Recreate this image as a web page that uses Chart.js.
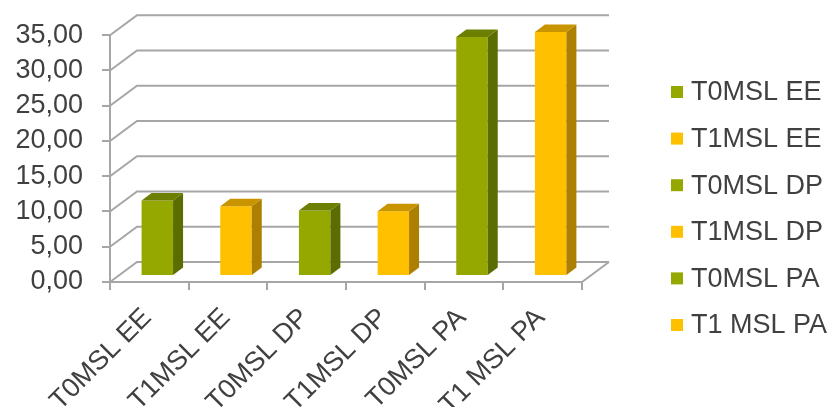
<!DOCTYPE html>
<html>
<head>
<meta charset="utf-8">
<script src="https://cdn.jsdelivr.net/npm/chart.js@4.4.1/dist/chart.umd.min.js"></script>
<style>
  html, body { margin: 0; padding: 0; background: #fff; }
  canvas { display: block; }
</style>
</head>
<body>
<canvas id="chart" width="830" height="407"></canvas>
<script>
const categories = ['T0MSL EE', 'T1MSL EE', 'T0MSL DP', 'T1MSL DP', 'T0MSL PA', 'T1 MSL PA'];
const values = [10.7, 9.9, 9.3, 9.2, 33.9, 34.6];
const yTicks = [0, 5, 10, 15, 20, 25, 30, 35];

const GREEN = { face: '#94a800', side: '#5b6c00', top: '#6c7f00' };
const GOLD = { face: '#ffc000', side: '#ac7f00', top: '#c89500' };
const palette = values.map((v, i) => (i % 2 === 0 ? GREEN : GOLD));

const GRID = '#a6a6a6';
const TEXT = '#404040';
const FONT = '"Liberation Sans", Arial, sans-serif';

// oblique depth of the box, and where the columns sit inside it
const WALL = { dx: 27, dy: 20 };
const ROW = { dx: 8, dy: 6 };
const COL_DEPTH = { dx: 10, dy: 7.5 };

const walls = {
  id: 'walls',
  beforeDatasetsDraw(chart) {
    const { ctx, chartArea: a, scales: { y } } = chart;
    ctx.save();
    ctx.strokeStyle = GRID;
    ctx.lineWidth = 2;
    ctx.beginPath();
    yTicks.forEach(t => {
      const py = y.getPixelForValue(t);
      ctx.moveTo(a.left, py);
      ctx.lineTo(a.left + WALL.dx, py - WALL.dy);
      ctx.lineTo(a.right + WALL.dx, py - WALL.dy);
    });
    // floor right edge
    ctx.moveTo(a.right, a.bottom);
    ctx.lineTo(a.right + WALL.dx, a.bottom - WALL.dy);
    ctx.stroke();
    ctx.restore();
  },
  beforeDatasetDraw(chart) {
    chart.ctx.save();
    chart.ctx.translate(ROW.dx, -ROW.dy);
  },
  afterDatasetDraw(chart, args) {
    const ctx = chart.ctx;
    args.meta.data.forEach((bar, i) => {
      const p = bar.getProps(['x', 'y', 'base', 'width'], true);
      const l = p.x - p.width / 2, r = p.x + p.width / 2;
      const top = Math.min(p.y, p.base), bot = Math.max(p.y, p.base);
      const c = palette[i];
      ctx.fillStyle = c.side;
      ctx.beginPath();
      ctx.moveTo(r, top);
      ctx.lineTo(r + COL_DEPTH.dx, top - COL_DEPTH.dy);
      ctx.lineTo(r + COL_DEPTH.dx, bot - COL_DEPTH.dy);
      ctx.lineTo(r, bot);
      ctx.closePath();
      ctx.fill();
      ctx.fillStyle = c.top;
      ctx.beginPath();
      ctx.moveTo(l, top);
      ctx.lineTo(l + COL_DEPTH.dx, top - COL_DEPTH.dy);
      ctx.lineTo(r + COL_DEPTH.dx, top - COL_DEPTH.dy);
      ctx.lineTo(r, top);
      ctx.closePath();
      ctx.fill();
    });
    ctx.restore();
  },
  afterDraw(chart) {
    // legend: one entry per category
    const ctx = chart.ctx;
    ctx.save();
    ctx.font = '27px ' + FONT;
    ctx.textBaseline = 'middle';
    ctx.textAlign = 'left';
    chart.data.labels.forEach((lab, i) => {
      const cy = 92 + i * 46.6;
      ctx.fillStyle = palette[i].face;
      ctx.fillRect(671, cy - 6, 12, 12);
      ctx.fillStyle = TEXT;
      ctx.fillText(lab, 691, cy + 1);
    });
    ctx.restore();
  }
};

new Chart(document.getElementById('chart'), {
  type: 'bar',
  data: {
    labels: categories,
    datasets: [{
      data: values,
      backgroundColor: palette.map(c => c.face),
      borderWidth: 0,
      categoryPercentage: 1,
      barPercentage: 0.4,
      clip: false
    }]
  },
  options: {
    responsive: false,
    animation: false,
    events: [],
    layout: { padding: { top: 35, right: 248, left: 0, bottom: 0 } },
    plugins: { legend: { display: false }, tooltip: { enabled: false } },
    scales: {
      x: {
        offset: true,
        grid: { offset: true, drawOnChartArea: false, color: GRID, lineWidth: 2, tickLength: 8 },
        border: { color: GRID, width: 2 },
        ticks: {
          autoSkip: false, maxRotation: 45, minRotation: 45,
          color: TEXT, font: { family: FONT, size: 27 },
          padding: 12, labelOffset: -2
        },
        afterFit(scale) { scale.height = 125; }
      },
      y: {
        min: 0, max: 35,
        afterBuildTicks(scale) { scale.ticks = yTicks.map(v => ({ value: v })); },
        grid: { drawOnChartArea: false, color: GRID, lineWidth: 2, tickLength: 8 },
        border: { color: GRID, width: 2 },
        ticks: {
          autoSkip: false,
          color: TEXT, font: { family: FONT, size: 27 }, padding: 19,
          callback: v => v.toFixed(2).replace('.', ',')
        },
        afterFit(scale) { scale.width = 110; }
      }
    }
  },
  plugins: [walls]
});
</script>
</body>
</html>
